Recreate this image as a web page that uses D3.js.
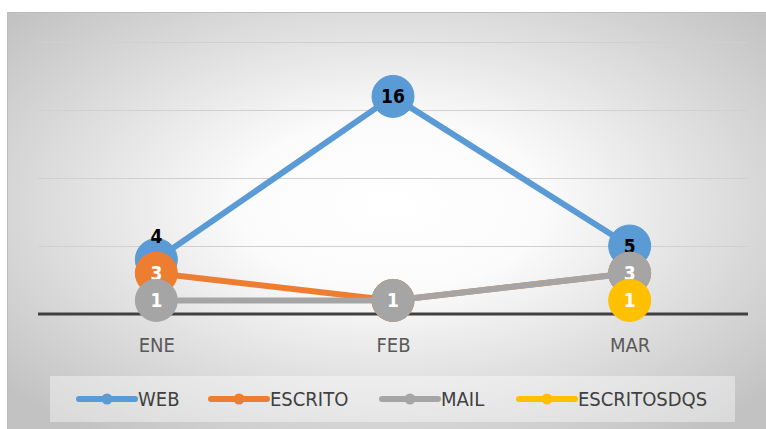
<!DOCTYPE html>
<html>
<head>
<meta charset="utf-8">
<script src="https://cdn.jsdelivr.net/npm/d3@7"></script>
<style>
  body { margin: 0; background: #fff; }
  svg { display: block; }
  text { font-family: "Liberation Sans Narrow", "DejaVu Sans Condensed", "Arial Narrow", sans-serif; }
</style>
</head>
<body>
<script>
// chart data
var months = ["ENE", "FEB", "MAR"];
var seriesNames = ["WEB", "ESCRITO", "MAIL", "ESCRITOSDQS"];
var web = [4, 16, 5];
var escrito = [3, 1, 3];
var mail = [1, 1, 3];
var escritosdqs = [null, null, 1];
var yTicks = [0, 5, 10, 15, 20];

var colors = ["#5b9bd5", "#ed7d31", "#a5a5a5", "#ffc000"];
var labelColors = ["#000", "#fff", "#fff", "#fff"];
var series = [web, escrito, mail, escritosdqs].map(function (vals, i) {
  return { name: seriesNames[i], values: vals, color: colors[i], labelColor: labelColors[i] };
});

var W = 766, H = 429;
var svg = d3.select("body").append("svg").attr("width", W).attr("height", H);

// background
var defs = svg.append("defs");
var grad = defs.append("radialGradient").attr("id", "bg")
  .attr("cx", "50%").attr("cy", "45%").attr("r", "66%");
grad.append("stop").attr("offset", "0%").attr("stop-color", "#ffffff");
grad.append("stop").attr("offset", "30%").attr("stop-color", "#fbfbfb");
grad.append("stop").attr("offset", "100%").attr("stop-color", "#c2c2c2");

svg.append("rect").attr("x", 7.5).attr("y", 12.5).attr("width", W).attr("height", H)
  .attr("fill", "url(#bg)").attr("stroke", "#bdbdbd");

var x = d3.scalePoint().domain(months).range([38, 748]).padding(0.5);
var y = d3.scaleLinear().domain([0, 20]).range([314, 42]);

// gridlines
svg.append("g").selectAll("line").data(yTicks.slice(1)).join("line")
  .attr("x1", 38).attr("x2", 748)
  .attr("y1", function (d) { return Math.round(y(d)) + 0.5; })
  .attr("y2", function (d) { return Math.round(y(d)) + 0.5; })
  .attr("stroke", "#d0d0d0").attr("stroke-width", 1);

// baseline
svg.append("line").attr("x1", 38).attr("x2", 748).attr("y1", y(0)).attr("y2", y(0))
  .attr("stroke", "#404040").attr("stroke-width", 3);

// x axis labels
var xAxis = d3.axisBottom(x).tickSize(0).tickPadding(0);
var gx = svg.append("g").attr("transform", "translate(0," + y(0) + ")").call(xAxis);
gx.select(".domain").remove();
gx.selectAll("text").attr("font-size", 20).attr("fill", "#595959")
  .attr("dy", null).attr("y", 38);

// lines and markers
var line = d3.line()
  .defined(function (d) { return d != null; })
  .x(function (d, i) { return x(months[i]); })
  .y(function (d) { return y(d); });

series.forEach(function (s) {
  var g = svg.append("g");
  g.append("path").attr("d", line(s.values)).attr("fill", "none")
    .attr("stroke", s.color).attr("stroke-width", 6).attr("stroke-linecap", "round")
    .attr("stroke-linejoin", "round");
  var pts = s.values.map(function (v, i) { return { v: v, i: i }; })
    .filter(function (p) { return p.v != null; });
  g.selectAll("circle").data(pts).join("circle")
    .attr("cx", function (p) { return x(months[p.i]); })
    .attr("cy", function (p) { return y(p.v); })
    .attr("r", 21).attr("fill", s.color)
    .attr("stroke", s.color).attr("stroke-width", 1);
  s.pts = pts;
  s.g = g;
});

// data labels
series.forEach(function (s, si) {
  s.g.selectAll("text.lbl").data(s.pts).join("text").attr("class", "lbl")
    .attr("x", function (p) { return x(months[p.i]); })
    .attr("y", function (p) {
      // first WEB label sits above its marker
      if (si === 0 && p.i === 0) return y(p.v) - 17;
      return y(p.v) + 7;
    })
    .attr("text-anchor", "middle").attr("font-size", 19).attr("font-weight", "bold")
    .attr("fill", s.labelColor)
    .text(function (p) { return p.v; });
});

// legend
var lg = svg.append("g");
lg.append("rect").attr("x", 50).attr("y", 376).attr("width", 685).attr("height", 46)
  .attr("fill", "#ffffff").attr("fill-opacity", 0.4);
var legendX = [79, 211, 382, 519];
series.forEach(function (s, i) {
  var lx = legendX[i], ly = 399;
  lg.append("line").attr("x1", lx).attr("x2", lx + 56).attr("y1", ly).attr("y2", ly)
    .attr("stroke", s.color).attr("stroke-width", 6).attr("stroke-linecap", "round");
  lg.append("circle").attr("cx", lx + 28).attr("cy", ly).attr("r", 5.5).attr("fill", s.color);
  lg.append("text").attr("x", lx + 59).attr("y", ly + 7).attr("font-size", 20)
    .attr("fill", "#404040").text(s.name);
});
</script>
</body>
</html>
